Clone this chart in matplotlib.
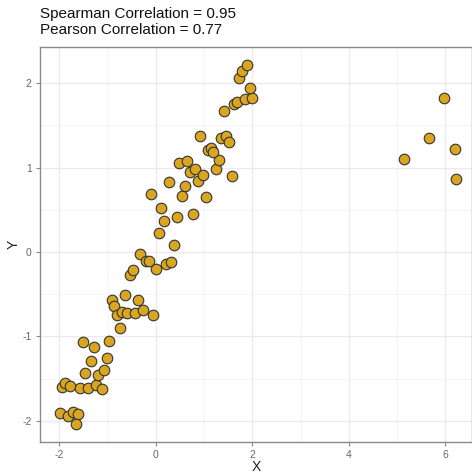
import matplotlib
matplotlib.use("Agg")
import matplotlib.pyplot as plt
import numpy as np

plt.rcParams['font.family'] = ['Liberation Sans', 'DejaVu Sans']
plt.rcParams['axes.unicode_minus'] = False

x = [-1.99, -1.83, -1.72, -1.61, -1.66, -1.94, -1.89, -1.78, -1.57, -1.40,
     -1.24, -1.12, -1.46, -1.19, -1.07, -1.34, -1.02, -1.50, -1.29, -0.97,
     -0.75, -0.91, -0.86, -0.81, -0.70, -0.59, -0.43, -0.26, -0.05, -0.64,
     -0.37, -0.53, -0.48, -0.32, -0.21, -0.15, 0.00, 0.21, 0.32, 0.06,
     0.38, -0.11, 0.11, 0.16, 0.44, 0.76, 0.28, 0.60, 0.54, 1.03,
     0.49, 0.65, 0.70, 0.82, 0.87, 0.98, 1.24, 1.30, 1.08, 1.14,
     1.19, 0.92, 1.35, 1.46, 1.51, 1.57, 1.41, 1.62, 1.68, 1.84,
     2.00, 1.95, 1.73, 1.78, 1.89, 5.14, 5.65, 5.97, 6.20, 6.22]
y = [-1.91, -1.94, -1.89, -1.92, -2.04, -1.60, -1.55, -1.59, -1.61, -1.61,
     -1.57, -1.62, -1.43, -1.46, -1.40, -1.29, -1.25, -1.07, -1.12, -1.05,
     -0.90, -0.57, -0.64, -0.74, -0.71, -0.72, -0.72, -0.69, -0.74, -0.51,
     -0.57, -0.27, -0.21, -0.02, -0.11, -0.10, -0.20, -0.14, -0.12, 0.23,
     0.09, 0.69, 0.52, 0.37, 0.42, 0.45, 0.83, 0.78, 0.67, 0.65,
     1.05, 1.08, 0.95, 0.99, 0.84, 0.91, 0.98, 1.09, 1.21, 1.23,
     1.19, 1.37, 1.35, 1.37, 1.30, 0.90, 1.67, 1.75, 1.78, 1.81,
     1.83, 1.95, 2.06, 2.15, 2.22, 1.10, 1.35, 1.82, 1.22, 0.87]

title = "Spearman Correlation = 0.95\nPearson Correlation = 0.77"

W, H = 472, 474
fig = plt.figure(figsize=(W / 100, H / 100), dpi=100)
ax = fig.add_axes([40 / W, 1 - 442 / H, 1 - 40 / W, (442 - 47) / H])

ax.scatter(x, y, s=58, facecolor="#DAA520", edgecolor="#333333", linewidth=0.8, zorder=3)

ax.set_xlim(-2.40, 6.55)
ax.set_ylim(-2.25, 2.43)
ax.set_xticks([-2, 0, 2, 4, 6])
ax.set_yticks([-2, -1, 0, 1, 2])
ax.set_xticks([-1, 1, 3, 5], minor=True)
ax.set_yticks([-1.5, -0.5, 0.5, 1.5], minor=True)
ax.grid(which="major", color="#ebebeb", linewidth=1.0, zorder=0)
ax.grid(which="minor", color="#f2f2f2", linewidth=0.6, zorder=0)
ax.set_axisbelow(True)

for s in ax.spines.values():
    s.set_color("#8a8a8a")
    s.set_linewidth(1.0)
ax.tick_params(which="major", length=3, width=0.8, color="#8a8a8a",
               labelsize=7.5, labelcolor="#666666", pad=3)
ax.tick_params(which="minor", length=0)

ax.set_xlabel("X", fontsize=10, color="#222222", labelpad=0)
ax.set_ylabel("Y", fontsize=10, color="#222222", labelpad=1)

fig.text(40 / W, 1 - 7 / H, title, ha="left", va="top", fontsize=11,
         color="#111111", linespacing=1.2)

fig.savefig("out.png", dpi=100)
